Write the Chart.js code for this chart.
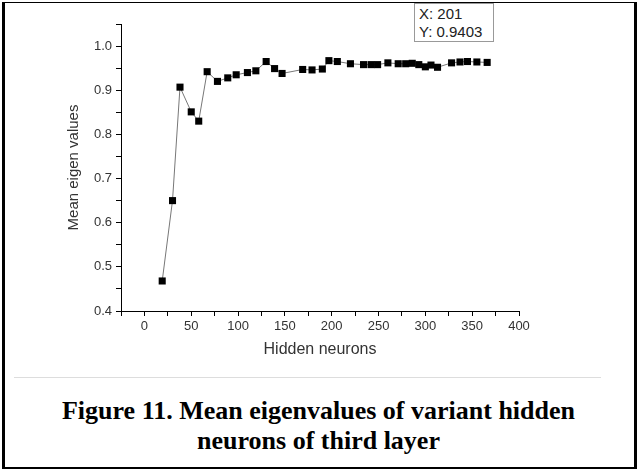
<!DOCTYPE html>
<html lang="en">
<head>
    <meta charset="UTF-8">
    <title>Mean eigenvalues chart</title>
    <script src="https://cdn.jsdelivr.net/npm/chart.js"></script>
    <style>
        body { margin: 0; background: #fff; }
        #page { position: relative; width: 637px; height: 470px; overflow: hidden; }
        #frame {
            position: absolute; left: 2px; top: 2px; width: 635px; height: 467px;
            box-sizing: border-box; border-left: 3px solid #000; border-right: 3px solid #000;
            border-top: 1px solid #000; border-bottom: 2px solid #000;
        }
        #chartbox { position: absolute; left: 0; top: 0; width: 637px; height: 370px; }
        #sep { position: absolute; left: 14px; top: 377px; width: 587px; height: 1px; background: #ddd; }
        #caption {
            position: absolute; left: 0; top: 396px; width: 637px; text-align: center;
            font-family: "Liberation Serif", "Times New Roman", serif; font-weight: bold;
            font-size: 26px; line-height: 30px; color: #000;
        }
        #tip {
            position: absolute; left: 414px; top: 3px; width: 80px; height: 39px; box-sizing: border-box;
            border: 1px solid #999; background: #fff; padding: 1px 0 0 4px;
            font-family: "Liberation Sans", Arial, sans-serif; font-size: 15px; line-height: 18px; color: #222;
        }
    </style>
</head>
<body>
<div id="page">
    <div id="chartbox"><canvas id="mychart" width="637" height="370"></canvas></div>
    <div id="tip">X: 201<br>Y: 0.9403</div>
    <div id="sep"></div>
    <div id="caption">Figure 11. Mean eigenvalues of variant hidden<br>neurons of third layer</div>
    <div id="frame"></div>
</div>
<script>
    // hidden neurons of third layer vs mean eigen value
    var hiddenNeurons = [19, 30, 38, 50, 58, 67, 78, 89, 98, 110, 119, 130, 139, 147, 169, 179, 190, 197, 206, 220,
        234, 242, 249, 260, 271, 279, 286, 293, 300, 306, 313, 328, 337, 345, 355, 366];
    var meanEigen = [0.468, 0.650, 0.907, 0.851, 0.830, 0.942, 0.920, 0.928, 0.935, 0.940, 0.944, 0.965, 0.949, 0.938,
        0.947, 0.946, 0.948, 0.967, 0.965, 0.960, 0.958, 0.958, 0.958, 0.962, 0.960, 0.960, 0.961, 0.958, 0.953, 0.957,
        0.952, 0.962, 0.964, 0.965, 0.964, 0.963];
    var xTicks = [0, 50, 100, 150, 200, 250, 300, 350, 400];
    var yTicks = [0.4, 0.5, 0.6, 0.7, 0.8, 0.9, 1.0];

    var points = hiddenNeurons.map(function (x, i) { return { x: x, y: meanEigen[i] }; });
    var tickFont = { family: "'Liberation Sans', Arial, sans-serif", size: 13 };

    var ctx = document.getElementById("mychart").getContext('2d');
    new Chart(ctx, {
        type: 'line',
        data: {
            datasets: [{
                data: points,
                borderColor: '#777',
                borderWidth: 1,
                pointStyle: 'rect',
                pointRadius: 5,
                pointBackgroundColor: '#000',
                pointBorderColor: '#000',
                pointBorderWidth: 0,
                tension: 0
            }]
        },
        options: {
            responsive: false,
            animation: false,
            layout: { padding: { left: 61, top: 24, right: 118, bottom: 7 } },
            plugins: { legend: { display: false }, tooltip: { enabled: false } },
            scales: {
                x: {
                    type: 'linear', min: -25, max: 400,
                    afterFit: function (s) { s.height = 52; },
                    border: { display: true, color: '#000', width: 1 },
                    grid: { drawOnChartArea: false, tickLength: 5, color: '#000' },
                    ticks: {
                        stepSize: 25, autoSkip: false, padding: 3, color: '#333', font: tickFont, maxRotation: 0,
                        callback: function (v) { return xTicks.indexOf(v) >= 0 ? String(v) : ''; }
                    },
                    title: { display: true, text: 'Hidden neurons', color: '#333',
                        font: { family: "'Liberation Sans', Arial, sans-serif", size: 16 } }
                },
                y: {
                    min: 0.4, max: 1.05,
                    afterFit: function (s) { s.width = 60; },
                    border: { display: true, color: '#000', width: 1 },
                    grid: { drawOnChartArea: false, tickLength: 5, color: '#000' },
                    ticks: {
                        stepSize: 0.05, autoSkip: false, padding: 4, color: '#333', font: tickFont,
                        callback: function (v) {
                            var r = Math.round(v * 10) / 10;
                            return Math.abs(r - v) < 1e-6 && yTicks.indexOf(r) >= 0 ? r.toFixed(1) : '';
                        }
                    },
                    title: { display: true, text: 'Mean eigen values', color: '#333',
                        font: { family: "'Liberation Sans', Arial, sans-serif", size: 15 } }
                }
            }
        }
    });
</script>
</body>
</html>
